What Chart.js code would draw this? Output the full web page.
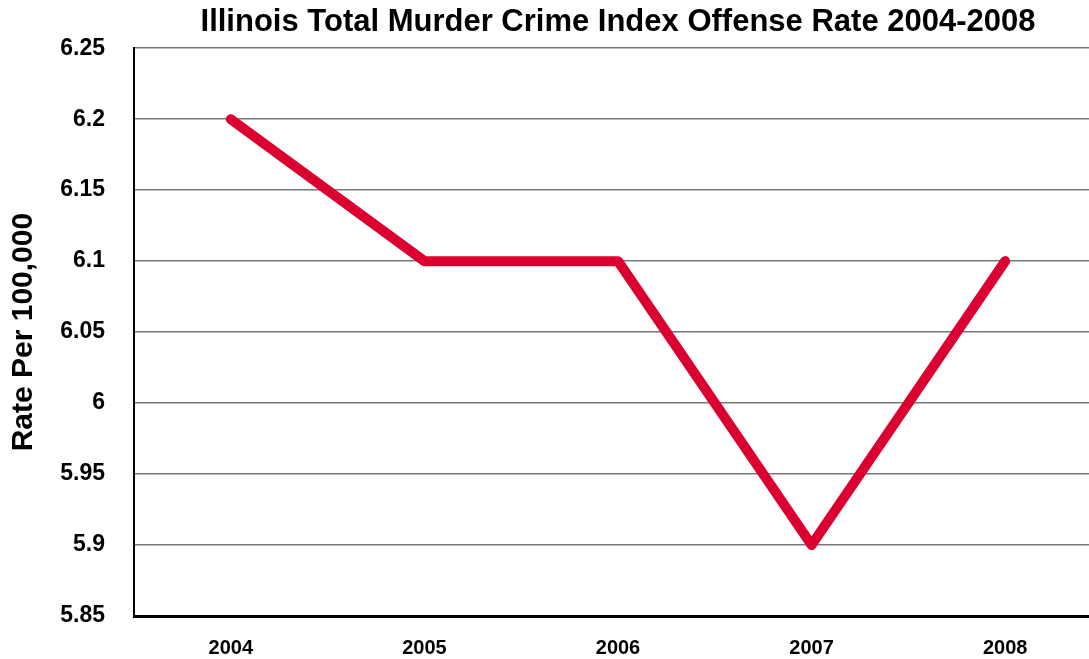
<!DOCTYPE html>
<html>
<head>
<meta charset="utf-8">
<script src="https://cdn.jsdelivr.net/npm/chart.js@4"></script>
<style>
  html, body { margin: 0; padding: 0; overflow: hidden; background: #fff; }
</style>
</head>
<body>
<canvas id="chart" width="1102" height="659"></canvas>
<script>
// data
const years = ['2004', '2005', '2006', '2007', '2008'];
const rates = [6.2, 6.1, 6.1, 5.9, 6.1];
const yMin = 5.85;
const yMax = 6.25;
const yStep = 0.05;

const font = 'Arial, "Liberation Sans", Helvetica, sans-serif';

const ctx = document.getElementById('chart').getContext('2d');
new Chart(ctx, {
    type: 'line',
    data: {
        labels: years,
        datasets: [{
            label: 'Rate',
            data: rates,
            borderColor: '#DC0030',
            borderWidth: 10,
            borderCapStyle: 'round',
            borderJoinStyle: 'round',
            pointRadius: 0,
            tension: 0,
            fill: false
        }]
    },
    options: {
        responsive: false,
        animation: false,
        layout: { padding: 0 },
        plugins: {
            legend: { display: false },
            tooltip: { enabled: false },
            title: {
                display: true,
                fullSize: false, // centre over the plot area like the original
                text: 'Illinois Total Murder Crime Index Offense Rate 2004-2008',
                color: '#000',
                font: { family: font, size: 31, weight: 'bold' },
                padding: { top: 4, bottom: 7 }
            }
        },
        scales: {
            x: {
                offset: true,
                grid: { display: false, drawTicks: false },
                border: { display: true, color: '#000', width: 3 },
                ticks: {
                    color: '#000',
                    padding: 20,
                    font: { family: font, size: 20, weight: 'bold' }
                },
                afterFit: s => { s.height = 43; }
            },
            y: {
                min: yMin,
                max: yMax,
                grid: { color: '#777', lineWidth: 1.5, drawTicks: false },
                border: { display: true, color: '#000', width: 2 },
                ticks: {
                    stepSize: yStep,
                    color: '#000',
                    padding: 29,
                    font: { family: font, size: 23, weight: 'bold' },
                    callback: v => parseFloat(v.toFixed(2)).toString()
                },
                title: {
                    display: true,
                    text: 'Rate Per 100,000',
                    color: '#000',
                    font: { family: font, size: 30, weight: 'bold' },
                    padding: { top: 6, bottom: 0 }
                },
                afterFit: s => { s.width = 134; }
            }
        }
    }
});
</script>
</body>
</html>
